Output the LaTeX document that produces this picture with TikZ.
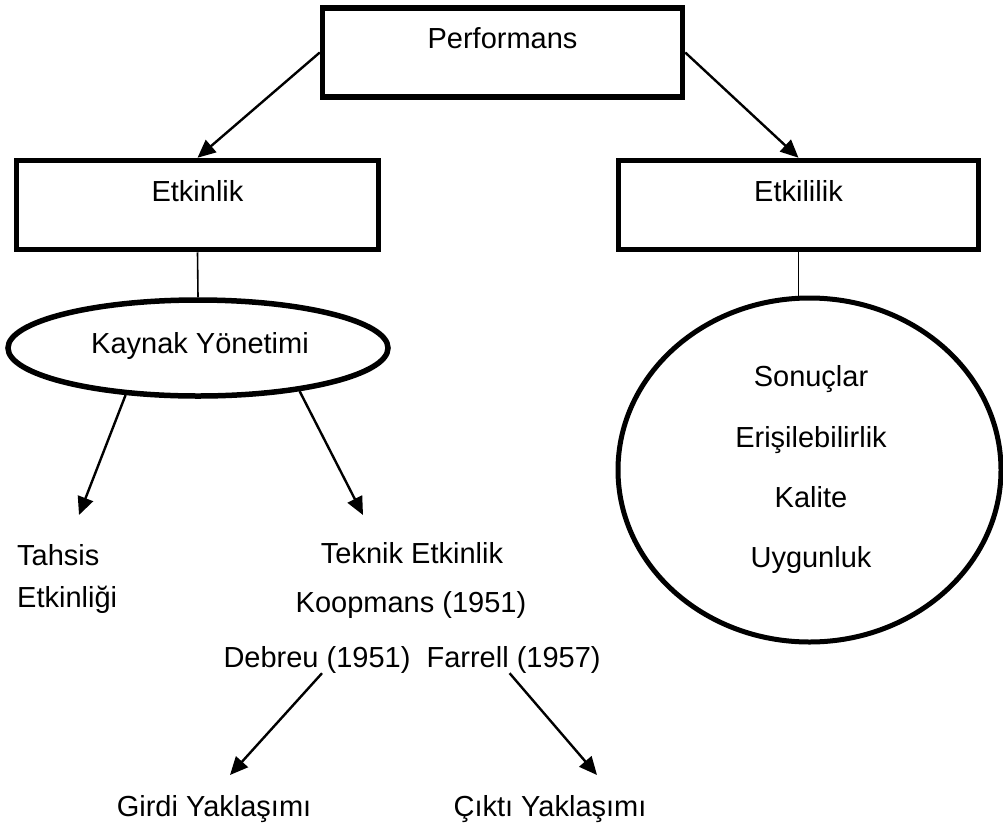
\documentclass[tikz,border=0pt]{standalone}
\usepackage{fontspec}
\setmainfont{Liberation Sans}
\usetikzlibrary{arrows.meta,shapes.geometric}
\begin{document}
\begin{tikzpicture}[x=1pt,y=-1pt,
  box/.style={draw,line width=5.5pt,minimum width=#1,minimum height=89pt,inner sep=0pt},
  txt/.style={font=\fontsize{29}{35}\selectfont,anchor=base,inner sep=0pt},
  arr/.style={line width=2.4pt,-{Triangle[length=18pt,width=16pt]}},
  thin/.style={line width=1.6pt}]
\useasboundingbox (0,0) rectangle (1003,828);
% boxes
\node[box=360pt] (perf) at (502.5,52.5) {};
\node[txt] (perfT) at (502.5,48) {Performans};
\node[box=362pt] (etk) at (197.5,205) {};
\node[txt] (etkT) at (197.5,201) {Etkinlik};
\node[box=360pt] (etl) at (798.5,205) {};
\node[txt] (etlT) at (798.5,201) {Etkililik};
% ellipse
\node[draw,ellipse,line width=5.5pt,minimum width=380pt,minimum height=96pt,inner sep=0pt] (kay) at (198,348) {};
\node[txt] (kayT) at (200,353) {Kaynak Yönetimi};
% circle
\node[draw,ellipse,line width=5pt,minimum width=383pt,minimum height=344pt,inner sep=0pt] (circ) at (809.5,470) {};
\node[txt] (s1) at (811,386) {Sonuçlar};
\node[txt] (s2) at (811,447) {Erişilebilirlik};
\node[txt] (s3) at (811,507) {Kalite};
\node[txt] (s4) at (811,567) {Uygunluk};
% lower texts
\node[txt,anchor=base west] (tah1) at (17,565) {Tahsis};
\node[txt,anchor=base west] (tah2) at (17,607) {Etkinliği};
\node[txt] (tek) at (412,563) {Teknik Etkinlik};
\node[txt] (koop) at (411,612) {Koopmans (1951)};
\node[txt] (deb) at (317,667) {Debreu (1951)};
\node[txt] (far) at (513.6,667) {Farrell (1957)};
\node[txt] (gir) at (214,816) {Girdi Yaklaşımı};
\node[txt] (cik) at (550,816) {Çıktı Yaklaşımı};
% arrow tips
\coordinate (tahTip) at (79,515);
\coordinate (tekTip) at (363,515);
\coordinate (girTip) at (230,775);
\coordinate (cikTip) at (597,775);
% connectors
\draw[arr] (perf.west) -- (etk.north);
\draw[arr] (perf.east) -- (etl.north);
\draw[thin] (etk.south) -- (kay.north);
\draw[thin] (etl.south) -- (etl.south |- circ.north);
\draw[arr] (kay.-147) -- (tahTip);
\draw[arr] (kay.-23) -- (tekTip);
\draw[arr] ([xshift=5pt]deb.south) -- (girTip);
\draw[arr] ([xshift=-4pt]far.south) -- (cikTip);
\end{tikzpicture}
\end{document}
